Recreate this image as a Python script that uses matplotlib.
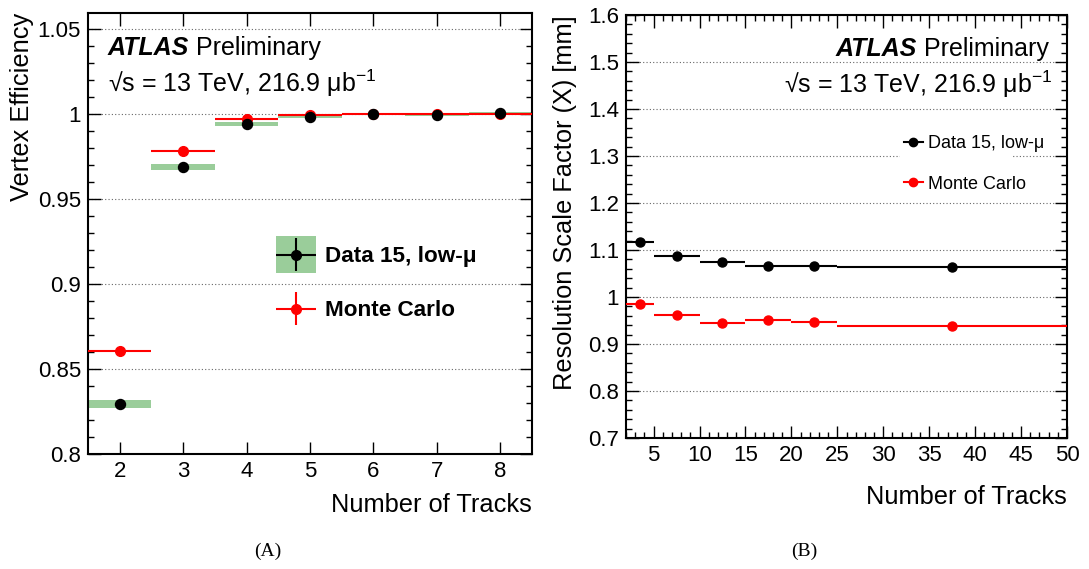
import numpy as np
import matplotlib
matplotlib.use("Agg")
import matplotlib.pyplot as plt
from matplotlib.ticker import MultipleLocator, FuncFormatter
from matplotlib.patches import Patch, Rectangle
from matplotlib.lines import Line2D
from matplotlib.container import ErrorbarContainer
from matplotlib.legend_handler import HandlerErrorbar

plt.rcParams['font.family'] = ['Liberation Sans', 'DejaVu Sans']
plt.rcParams['mathtext.fontset'] = 'custom'
plt.rcParams['mathtext.rm'] = 'Liberation Sans'
plt.rcParams['mathtext.it'] = 'Liberation Sans:italic'
plt.rcParams['mathtext.bf'] = 'Liberation Sans:bold'

# (A) vertex efficiency vs number of tracks
eff_tracks = [2, 3, 4, 5, 6, 7, 8]
eff_data = [0.8296, 0.9690, 0.9941, 0.9984, 1.0000, 0.9995, 1.0004]
eff_data_syst = [0.0023, 0.0017, 0.0010, 0.0006, 0.0005, 0.0005, 0.0005]
eff_mc = [0.8603, 0.9782, 0.9969, 0.9995, 1.0000, 0.9998, 1.0002]

# (B) resolution scale factor vs number of tracks
res_edges = [2, 5, 10, 15, 20, 25, 50]
res_data = [1.116, 1.088, 1.074, 1.066, 1.065, 1.0635]
res_mc = [0.9845, 0.961, 0.945, 0.950, 0.947, 0.938]

GREEN = '#9acd9a'
LBL = 18.3
TICK = 16
HEAD = 18
ENERGY = '√s = 13 TeV, 216.9 μb$^{-1}$'


class CenteredErrorbar(HandlerErrorbar):
    # put the errorbar marker in the middle of the patch it sits on
    def create_artists(self, legend, orig_handle, xdescent, ydescent, width, height,
                       fontsize, trans):
        return super().create_artists(legend, orig_handle, xdescent, ydescent, width,
                                      height - ydescent, fontsize, trans)


fig = plt.figure(figsize=(10.89, 5.69), dpi=100)
axA = fig.add_axes([88/1089, 1-454/569, 444/1089, 441/569])
axB = fig.add_axes([626/1089, 1-438/569, 441/1089, 423/569])

fmt = FuncFormatter(lambda v, p: '%g' % round(v, 4))


def style(ax):
    for s in ax.spines.values():
        s.set_linewidth(1.5)
    ax.tick_params(which='both', direction='in', top=True, right=True,
                   labelsize=TICK, width=1.0)
    ax.tick_params(which='major', length=9, pad=5)
    ax.tick_params(which='minor', length=4.5)
    ax.yaxis.set_major_formatter(fmt)
    ax.grid(axis='y', which='major', linestyle=(0, (1, 2)), color='0.4', linewidth=0.8)


# ---------- panel A ----------
x = np.array(eff_tracks)
axA.bar(x, 2*np.array(eff_data_syst), bottom=np.array(eff_data)-np.array(eff_data_syst),
        width=1.0, color=GREEN, zorder=2)
axA.errorbar(x, eff_mc, xerr=0.5, fmt='o', color='red', ms=7, lw=1.5, zorder=3)
axA.plot(x, eff_data, 'o', color='black', ms=7.2, zorder=4)
axA.set_xlim(1.5, 8.5)
axA.set_ylim(0.8, 1.0594)
axA.xaxis.set_major_locator(MultipleLocator(1))
axA.yaxis.set_major_locator(MultipleLocator(0.05))
axA.yaxis.set_minor_locator(MultipleLocator(0.01))
style(axA)

t1 = axA.text(0.045, 0.905, 'ATLAS', transform=axA.transAxes, fontsize=HEAD,
              fontweight='bold', fontstyle='italic', va='baseline')
axA.annotate(' Preliminary', xy=(1, 0), xycoords=t1, fontsize=HEAD, va='bottom')
axA.text(0.045, 0.82, ENERGY, transform=axA.transAxes, fontsize=HEAD, va='baseline')

# legend handles
hd = axA.errorbar([np.nan], [np.nan], xerr=1, yerr=1, fmt='o', color='black', ms=7, lw=1.5)
hm = axA.errorbar([np.nan], [np.nan], xerr=1, yerr=1, fmt='o', color='red', ms=7, lw=1.5)
axA.legend([(Patch(facecolor=GREEN, edgecolor='none'), hd), hm],
           ['Data 15, low-μ', 'Monte Carlo'],
           loc='upper left', bbox_to_anchor=(0.4234, 0.494), frameon=False,
           prop={'size': 16.2, 'weight': 'bold'}, handlelength=1.78, handleheight=2.16,
           handletextpad=0.4, labelspacing=0.76, borderpad=0, borderaxespad=0,
           handler_map={ErrorbarContainer: CenteredErrorbar(xerr_size=0.89, yerr_size=0.73)})

axA.text(-0.149, 1.0, 'Vertex Efficiency', transform=axA.transAxes, rotation=90,
         ha='center', va='top', fontsize=LBL)
axA.text(1.0, -0.1156, 'Number of Tracks', transform=axA.transAxes,
         ha='right', va='center', fontsize=LBL)

# ---------- panel B ----------
edges = np.array(res_edges, dtype=float)
centers = 0.5*(edges[1:] + edges[:-1])
half = 0.5*(edges[1:] - edges[:-1])
axB.errorbar(centers, res_data, xerr=half, fmt='o', color='black', ms=6.5, lw=1.5, zorder=4)
axB.errorbar(centers, res_mc, xerr=half, fmt='o', color='red', ms=6.5, lw=1.5, zorder=3)
axB.set_xlim(2, 50)
axB.set_ylim(0.7, 1.6)
axB.xaxis.set_major_locator(MultipleLocator(5))
axB.xaxis.set_minor_locator(MultipleLocator(1))
axB.yaxis.set_major_locator(MultipleLocator(0.1))
axB.yaxis.set_minor_locator(MultipleLocator(0.02))
style(axB)

axB.add_patch(Rectangle((0.621, 0.574), 0.257, 0.19, transform=axB.transAxes,
                        facecolor='white', edgecolor='none', zorder=1.8))
t2 = axB.text(0.959, 0.903, 'Preliminary', transform=axB.transAxes, fontsize=HEAD,
              ha='right', va='baseline')
axB.annotate('ATLAS ', xy=(0, 0), xycoords=t2, fontsize=HEAD, fontweight='bold',
             fontstyle='italic', ha='right', va='bottom')
axB.text(0.966, 0.816, ENERGY, transform=axB.transAxes, fontsize=HEAD,
         ha='right', va='baseline')

hB = [Line2D([], [], color='black', marker='o', ms=6, lw=1.5),
      Line2D([], [], color='red', marker='o', ms=6, lw=1.5)]
axB.legend(hB, ['Data 15, low-μ', 'Monte Carlo'], loc='upper left',
           bbox_to_anchor=(0.630, 0.716), frameon=False, fontsize=13,
           handlelength=1.05, handletextpad=0.3, labelspacing=1.31,
           borderpad=0, borderaxespad=0)

axB.text(-0.138, 1.0, 'Resolution Scale Factor (X) [mm]', transform=axB.transAxes,
         rotation=90, ha='center', va='top', fontsize=LBL)
axB.text(1.0, -0.1395, 'Number of Tracks', transform=axB.transAxes,
         ha='right', va='center', fontsize=LBL)

# captions
fig.text(268/1089, 1-551/569, '(A)', family='Liberation Serif', fontsize=14,
         ha='center', va='center')
fig.text(804/1089, 1-551/569, '(B)', family='Liberation Serif', fontsize=14,
         ha='center', va='center')

fig.savefig('out.png', dpi=100)
